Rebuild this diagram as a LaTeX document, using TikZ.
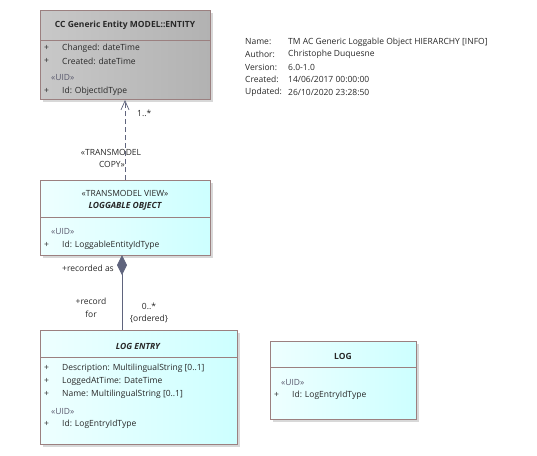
\documentclass[tikz,border=0pt]{standalone}
\usepackage{fontspec}
\setmainfont{Open Sans}
\usetikzlibrary{arrows.meta,shadows}
\definecolor{bord}{RGB}{155,128,128}
\definecolor{txt}{RGB}{40,40,40}
\definecolor{stx}{RGB}{90,90,110}
\definecolor{cyanL}{RGB}{238,255,255}
\definecolor{cyanR}{RGB}{205,255,255}
\definecolor{grayL}{RGB}{200,200,200}
\definecolor{grayR}{RGB}{178,178,178}
\definecolor{linec}{RGB}{95,100,125}
\newcommand{\fs}{\fontsize{8.5}{10}\selectfont}
\tikzset{
  box/.style={draw=bord, line width=0.7pt, anchor=north west, inner sep=0pt,
    drop shadow={shadow xshift=2.5pt, shadow yshift=-2.5pt, fill=black!30, opacity=0.5}},
  cbox/.style={box, left color=cyanL, right color=cyanR},
  gbox/.style={box, left color=grayL, right color=grayR},
  t/.style={font=\fs, text=txt, inner sep=0pt, anchor=west},
  tc/.style={font=\fs, text=txt, inner sep=0pt},
  hd/.style={font=\fs\bfseries, text=txt, inner sep=0pt},
  hdi/.style={font=\fs\bfseries\itshape, text=txt, inner sep=0pt},
  st/.style={font=\fs, text=stx, inner sep=0pt, anchor=west},
  sep/.style={draw=bord, line width=0.7pt},
}
\begin{document}
\begin{tikzpicture}[x=1pt,y=-1pt]
\useasboundingbox (0,0) rectangle (537,455);
% Entity box
\node[gbox, minimum width=170pt, minimum height=89pt] (ent) at (40,10) {};
\draw[sep] (40,40) -- (210,40);
\node[hd] (entH) at (125,25) {CC Generic Entity MODEL::ENTITY};
\node[t] (e1p) at (44,48) {+};
\node[t] (e1) at (62,48) {Changed: dateTime};
\node[t] (e2p) at (44,61) {+};
\node[t] (e2) at (62,61) {Created: dateTime};
\node[st] (e3) at (51,78) {«UID»};
\node[t] (e4p) at (44,91) {+};
\node[t] (e4) at (62,91) {Id: ObjectIdType};
% Loggable object
\node[cbox, minimum width=170pt, minimum height=75pt] (lo) at (40,180) {};
\draw[sep] (40,217) -- (210,217);
\node[tc] (loS) at (125,193) {«TRANSMODEL VIEW»};
\node[hdi] (loH) at (125,206) {LOGGABLE OBJECT};
\node[st] (lo1) at (51,232) {«UID»};
\node[t] (lo2p) at (44,245) {+};
\node[t] (lo2) at (62,245) {Id: LoggableEntityIdType};
% Log entry
\node[cbox, minimum width=197pt, minimum height=114pt] (le) at (40,330) {};
\draw[sep] (40,357) -- (237,357);
\node[hdi] (leH) at (138,346) {LOG ENTRY};
\node[t] (le1p) at (44,368) {+};
\node[t] (le1) at (62,368) {Description: MultilingualString [0..1]};
\node[t] (le2p) at (44,381) {+};
\node[t] (le2) at (62,381) {LoggedAtTime: DateTime};
\node[t] (le3p) at (44,394) {+};
\node[t] (le3) at (62,394) {Name: MultilingualString [0..1]};
\node[st] (le4) at (51,411) {«UID»};
\node[t] (le5p) at (44,424) {+};
\node[t] (le5) at (62,424) {Id: LogEntryIdType};
% Log
\node[cbox, minimum width=146pt, minimum height=78pt] (lg) at (270,341) {};
\draw[sep] (270,367) -- (416,367);
\node[hd] (lgH) at (343,356) {LOG};
\node[st] (lg1) at (281,382) {«UID»};
\node[t] (lg2p) at (274,395) {+};
\node[t] (lg2) at (292,395) {Id: LogEntryIdType};
% connectors
\coordinate (c1b) at (125,180);
\coordinate (c1t) at (125,100);
\draw[linec, dash pattern=on 5pt off 3pt, line width=0.7pt, -{Straight Barb[length=9pt,width=8pt,line width=0.7pt]}] (c1b) -- (c1t);
\node[t] (m1) at (137,113) {1..*};
\node[tc] (s1) at (111,152) {«TRANSMODEL};
\node[tc] (s2) at (112,164) {COPY»};
\coordinate (c2t) at (122,255);
\coordinate (c2b) at (122,330);
\draw[linec, line width=0.9pt, {Diamond[length=20pt,width=10pt,fill=linec]}-] (c2t) -- (c2b);
\node[tc] (r1) at (88,268) {+recorded as};
\node[tc] (r2) at (91,301) {+record};
\node[tc] (r3) at (91,314) {for};
\node[tc] (m2) at (149,306) {0..*};
\node[tc] (m3) at (149,319) {\{ordered\}};
% info
\node[t] (i1) at (245,42) {Name:};
\node[t] (i1v) at (288,42) {TM AC Generic Loggable Object HIERARCHY [INFO]};
\node[t] (i2) at (245,54) {Author:};
\node[t] (i2v) at (288,54) {Christophe Duquesne};
\node[t] (i3) at (245,67) {Version:};
\node[t] (i3v) at (288,67) {6.0-1.0};
\node[t] (i4) at (245,79) {Created:};
\node[t] (i4v) at (288,79) {14/06/2017 00:00:00};
\node[t] (i5) at (245,92) {Updated:};
\node[t] (i5v) at (288,92) {26/10/2020 23:28:50};
\end{tikzpicture}
\end{document}
